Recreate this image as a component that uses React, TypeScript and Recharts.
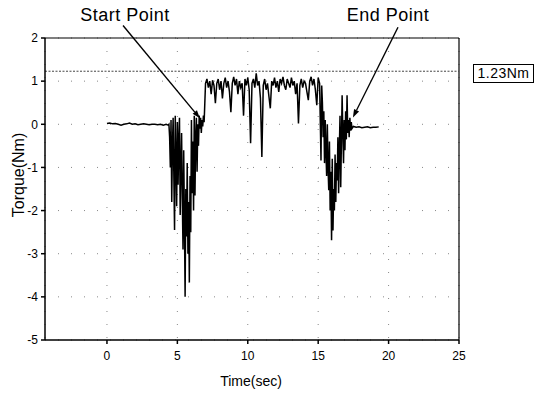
import React from 'react';
import { LineChart, Line, XAxis, YAxis, CartesianGrid, ReferenceLine } from 'recharts';

// [time (sec), torque (Nm)] pairs
const approachSegment: [number, number][] = [
  [0.0, 0.02], [0.2, 0.03], [0.4, 0.01], [0.6, 0.02], [0.8, 0.0], [1.0, -0.02], [1.2, 0.0],
  [1.4, 0.01], [1.6, 0.03], [1.8, 0.0], [2.0, 0.01], [2.2, -0.01], [2.4, 0.0], [2.6, 0.01],
  [2.8, 0.0], [3.0, -0.01], [3.2, 0.0], [3.4, 0.0], [3.6, -0.01], [3.8, 0.0], [4.0, -0.02],
  [4.2, 0.0], [4.35, -0.02],
];

const firstBurst: [number, number][] = [
  [4.4, 0.0], [4.45, -0.3], [4.5, -1.0], [4.55, 0.1], [4.6, -1.8], [4.65, -0.5], [4.7, 0.15],
  [4.75, -1.2], [4.8, -2.45], [4.85, 0.2], [4.9, -0.8], [4.95, -1.9], [5.0, 0.05], [5.05, -1.4],
  [5.1, -0.4], [5.15, 0.15], [5.2, -2.1], [5.25, -1.0], [5.3, -0.2], [5.35, -1.7], [5.4, -2.9],
  [5.45, -0.6], [5.5, -2.2], [5.55, -4.0], [5.6, -1.5], [5.65, -2.6], [5.7, -0.9], [5.75, -3.0],
  [5.8, -1.8], [5.85, -3.67], [5.9, -1.2], [5.95, -2.5], [6.0, 0.1], [6.05, -1.6], [6.1, -0.4],
  [6.15, -2.0], [6.2, 0.2], [6.25, -1.65], [6.3, -0.3], [6.35, 0.15], [6.4, -1.1], [6.45, 0.0],
  [6.5, -0.5], [6.55, 0.2], [6.6, -0.1], [6.65, 0.15], [6.7, -0.2], [6.75, 0.1], [6.8, -0.05],
  [6.85, 0.2], [6.9, 0.05], [6.95, 0.5], [7.0, 0.95],
];

const plateau: [number, number][] = [
  [7.1, 1.05], [7.2, 0.85], [7.3, 1.0], [7.4, 0.7], [7.5, 1.02], [7.6, 0.9], [7.7, 0.49],
  [7.8, 0.95], [7.9, 1.05], [8.0, 0.8], [8.1, 1.0], [8.2, 0.6], [8.3, 0.95], [8.4, 1.08],
  [8.5, 0.85], [8.6, 1.0], [8.7, 0.75], [8.8, 0.28], [8.9, 0.95], [9.0, 1.1], [9.1, 0.9],
  [9.2, 1.05], [9.3, 0.7], [9.4, 1.0], [9.5, 0.85], [9.6, 0.95], [9.7, 0.2], [9.8, 1.05],
  [9.9, 0.9], [10.0, 1.08], [10.1, 0.8], [10.2, -0.44], [10.3, 0.95], [10.4, 1.05], [10.5, 0.85],
  [10.6, 1.18], [10.7, 0.9], [10.8, 1.0], [10.9, 0.6], [11.0, -0.76], [11.1, 0.9], [11.2, 1.05],
  [11.3, 0.8], [11.4, 0.95], [11.5, 0.65], [11.6, 0.37], [11.7, 1.0], [11.8, 0.9], [11.9, 1.08],
  [12.0, 0.85], [12.1, 1.0], [12.2, 0.75], [12.3, 1.05], [12.4, 0.95], [12.5, 1.1], [12.6, 0.9],
  [12.7, 0.8], [12.8, 1.05], [12.9, 0.95], [13.0, 0.85], [13.1, 1.08], [13.2, 0.9], [13.3, 1.0],
  [13.4, 0.7], [13.5, 0.95], [13.6, 0.02], [13.7, 0.9], [13.8, 1.05], [13.9, 0.85], [14.0, 1.0],
  [14.1, 0.95], [14.2, 0.75], [14.3, 0.56], [14.4, 1.0], [14.5, 1.1], [14.6, 0.9], [14.7, 1.05],
  [14.8, 0.8], [14.9, 0.44], [15.0, 1.08], [15.1, 0.95], [15.2, -0.84], [15.25, 0.9], [15.3, 0.5],
];

const secondBurst: [number, number][] = [
  [15.35, -0.3], [15.4, 0.3], [15.45, -0.9], [15.5, 0.1], [15.55, -0.6], [15.6, -1.2],
  [15.65, 0.0], [15.7, -1.0], [15.75, -1.53], [15.8, -0.4], [15.85, -2.0], [15.9, -1.1],
  [15.95, -2.69], [16.0, -0.8], [16.05, -2.46], [16.1, -1.5], [16.15, -2.0], [16.2, -0.7],
  [16.25, -1.8], [16.3, -0.9], [16.35, -1.3], [16.4, -0.3], [16.45, -1.6], [16.5, -0.6],
  [16.55, 0.2], [16.6, -1.46], [16.65, -0.4], [16.7, 0.67], [16.75, -0.2], [16.8, -0.9],
  [16.85, 0.1], [16.9, -0.6], [16.95, 0.3], [17.0, -0.35], [17.05, 0.67], [17.1, -0.2],
  [17.15, 0.1], [17.2, -0.3], [17.25, 0.15], [17.3, -0.15], [17.35, 0.05], [17.4, -0.1],
];

const settleSegment: [number, number][] = [
  [17.5, -0.05], [17.7, -0.07], [17.9, -0.06], [18.1, -0.08], [18.3, -0.07], [18.5, -0.06],
  [18.7, -0.08], [18.9, -0.07], [19.1, -0.07], [19.3, -0.06],
];

const xTicks = [0, 5, 10, 15, 20, 25];
const yTicks = [-5, -4, -3, -2, -1, 0, 1, 2];
const limitTorque = 1.23;
const limitLabel = '1.23Nm';
const startArrow: [number, number][] = [[1.14, 2.29], [6.6, 0.14]];
const endArrow: [number, number][] = [[20.67, 2.25], [17.47, 0.16]];

const data = [...approachSegment, ...firstBurst, ...plateau, ...secondBurst, ...settleSegment].map(
  ([t, v]) => ({ t, v })
);

const FONT = '"Liberation Sans", Arial, Helvetica, sans-serif';

const ArrowShape = (props: any) => {
  const { x1, y1, x2, y2 } = props;
  const ang = Math.atan2(y2 - y1, x2 - x1);
  const len = 8;
  const w = 2.8;
  const bx = x2 - len * Math.cos(ang);
  const by = y2 - len * Math.sin(ang);
  const px = -Math.sin(ang) * w;
  const py = Math.cos(ang) * w;
  return (
    <g>
      <line x1={x1} y1={y1} x2={bx} y2={by} stroke="#000" strokeWidth={1.4} />
      <polygon points={`${x2},${y2} ${bx + px},${by + py} ${bx - px},${by - py}`} fill="#000" />
    </g>
  );
};

export default function App() {
  return (
    <div style={{ position: 'absolute', left: 0, top: 0, width: 541, height: 394, background: '#fff', fontFamily: FONT }}>
      <LineChart width={541} height={394} data={data} margin={{ top: 38, right: 82, bottom: 24, left: 5 }}>
        <CartesianGrid stroke="#888" strokeDasharray="1 12" />
        <XAxis
          type="number"
          dataKey="t"
          domain={[-4.4, 25]}
          ticks={xTicks}
          allowDataOverflow
          height={30}
          stroke="#000"
          strokeWidth={1.5}
          tickSize={4}
          tickMargin={7}
          tick={{ fill: '#000', fontSize: 12, fontFamily: FONT }}
        />
        <YAxis
          type="number"
          domain={[-5, 2]}
          ticks={yTicks}
          allowDataOverflow
          width={40}
          stroke="#000"
          strokeWidth={1.5}
          tickSize={4}
          tickMargin={3}
          tick={{ fill: '#000', fontSize: 12, fontFamily: FONT }}
        />
        <ReferenceLine y={2} stroke="#000" strokeWidth={1.2} />
        <ReferenceLine x={25} stroke="#000" strokeWidth={1.2} />
        <ReferenceLine y={limitTorque} stroke="#444" strokeWidth={1} strokeDasharray="2 1.5" />
        <Line
          type="linear"
          dataKey="v"
          stroke="#000"
          strokeWidth={1.5}
          dot={false}
          isAnimationActive={false}
        />
        <ReferenceLine
          segment={startArrow.map(([x, y]) => ({ x, y }))}
          ifOverflow="visible"
          shape={ArrowShape}
        />
        <ReferenceLine
          segment={endArrow.map(([x, y]) => ({ x, y }))}
          ifOverflow="visible"
          shape={ArrowShape}
        />
      </LineChart>
      <div style={{ position: 'absolute', left: 45, top: 5, width: 160, textAlign: 'center', fontSize: 18, lineHeight: '20px', letterSpacing: 0.5 }}>
        Start Point
      </div>
      <div style={{ position: 'absolute', left: 308, top: 5, width: 160, textAlign: 'center', fontSize: 18, lineHeight: '20px', letterSpacing: 0.5 }}>
        End Point
      </div>
      <div style={{ position: 'absolute', left: 473, top: 64, width: 59, height: 17, border: '1px solid #000', textAlign: 'center', fontSize: 14, lineHeight: '17px', letterSpacing: 0.5 }}>
        {limitLabel}
      </div>
      <div style={{ position: 'absolute', left: 19, top: 175, transform: 'translate(-50%, -50%) rotate(-90deg)', whiteSpace: 'nowrap', fontSize: 16, lineHeight: '18px' }}>
        Torque(Nm)
      </div>
      <div style={{ position: 'absolute', left: 251, top: 381, transform: 'translate(-50%, -50%)', whiteSpace: 'nowrap', fontSize: 14, lineHeight: '16px' }}>
        Time(sec)
      </div>
    </div>
  );
}
